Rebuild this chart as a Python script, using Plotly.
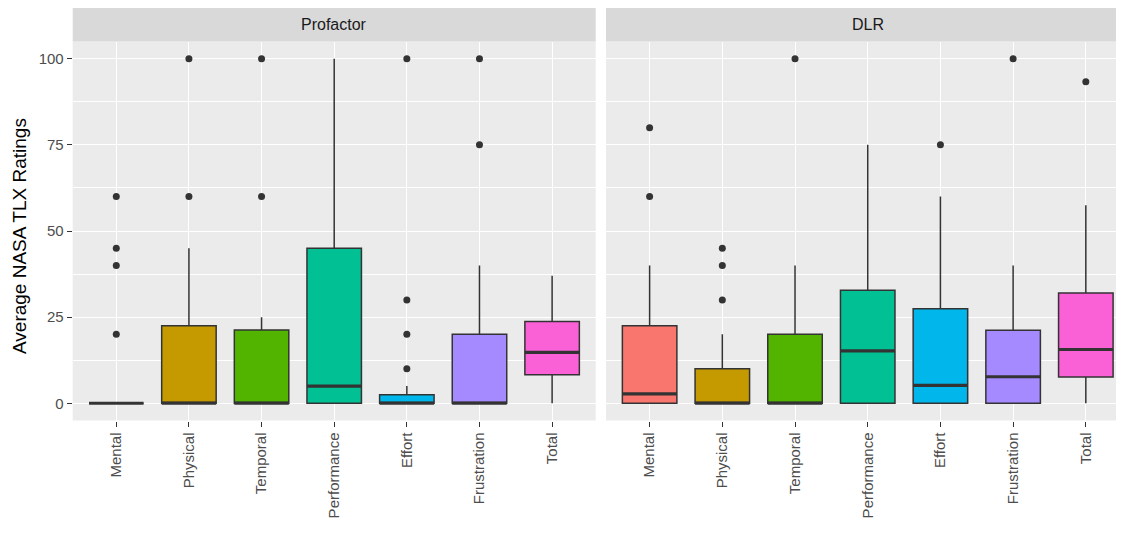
import plotly.graph_objects as go

categories = ["Mental", "Physical", "Temporal", "Performance", "Effort", "Frustration", "Total"]
colors = ["#F8766D", "#C49A00", "#53B400", "#00C094", "#00B6EB", "#A58AFF", "#FB61D7"]
y_ticks = [0, 25, 50, 75, 100]

# Profactor panel
prof_q1 = [0, 0, 0, 0, 0, 0, 8.3]
prof_med = [0, 0, 0, 5, 0, 0, 14.8]
prof_q3 = [0, 22.5, 21.25, 45, 2.5, 20, 23.7]
prof_lo = [0, 0, 0, 0, 0, 0, 0]
prof_hi = [0, 45, 25, 100, 5, 40, 37]
prof_out = [[20, 40, 45, 60], [60, 100], [60, 100], [], [10, 20, 30, 100], [75, 100], []]

# DLR panel
dlr_q1 = [0, 0, 0, 0, 0, 0, 7.6]
dlr_med = [2.7, 0, 0, 15.2, 5.2, 7.7, 15.6]
dlr_q3 = [22.5, 10, 20, 32.8, 27.4, 21.2, 32.0]
dlr_lo = [0, 0, 0, 0, 0, 0, 0]
dlr_hi = [40, 20, 40, 75, 60, 40, 57.5]
dlr_out = [[60, 80], [30, 40, 45], [100], [], [75], [100], [93.3]]

panels = [("Profactor", "x", "y", prof_q1, prof_med, prof_q3, prof_lo, prof_hi, prof_out),
          ("DLR", "x2", "y2", dlr_q1, dlr_med, dlr_q3, dlr_lo, dlr_hi, dlr_out)]

BOXW = 0.75
LINEC = "#333333"
fig = go.Figure()
positions = list(range(1, len(categories) + 1))

for name, xa, ya, q1, med, q3, lo, hi, outs in panels:
    for i, cat in enumerate(categories):
        pos = positions[i]
        fig.add_trace(go.Box(
            x=[pos], q1=[q1[i]], median=[med[i]], q3=[q3[i]],
            lowerfence=[lo[i]], upperfence=[hi[i]],
            width=BOXW, fillcolor=colors[i],
            line=dict(color=LINEC, width=1.5),
            boxpoints=False, whiskerwidth=0,
            xaxis=xa, yaxis=ya, showlegend=False, hoverinfo="skip"))
    # thicker median lines
    mx, my = [], []
    for i in range(len(categories)):
        mx += [positions[i] - BOXW / 2, positions[i] + BOXW / 2, None]
        my += [med[i], med[i], None]
    fig.add_trace(go.Scatter(x=mx, y=my, mode="lines",
                             line=dict(color=LINEC, width=3.2),
                             xaxis=xa, yaxis=ya, showlegend=False, hoverinfo="skip"))
    # outliers
    ox, oy = [], []
    for i in range(len(categories)):
        for v in outs[i]:
            ox.append(positions[i])
            oy.append(v)
    fig.add_trace(go.Scatter(x=ox, y=oy, mode="markers",
                             marker=dict(color=LINEC, size=7),
                             xaxis=xa, yaxis=ya, showlegend=False, hoverinfo="skip"))

# page has an 8px body margin; figure sized to fit inside it
OFF = 8
W, H = 1108, 517
PXU = 72.7  # pixels per category unit
left_dom = [(72.7 - OFF) / W, (595.7 - OFF) / W]
right_dom = [(606 - OFF) / W, 1.0]
y_dom = [(H - (420.5 - OFF)) / H, (H - (41.5 - OFF)) / H]
strip_top = 1.0

FONT = "Liberation Sans, Arial, sans-serif"
tickfont = dict(family=FONT, size=15, color="#4D4D4D")

xcommon = dict(tickmode="array", tickvals=positions, ticktext=categories,
               tickangle=-90, tickfont=tickfont, ticks="outside", ticklen=5,
               tickcolor=LINEC, tickwidth=1, showgrid=True, gridcolor="white",
               gridwidth=1.1, zeroline=False, showline=False, automargin=False)
ycommon = dict(range=[-5, 105], domain=y_dom, tickmode="array", tickvals=y_ticks,
               tickfont=tickfont, ticks="outside", ticklen=5, tickcolor=LINEC,
               tickwidth=1, showgrid=True, gridcolor="white", gridwidth=1.1,
               zeroline=False, showline=False, automargin=False,
               minor=dict(tickvals=[12.5, 37.5, 62.5, 87.5], showgrid=True,
                          gridcolor="white", gridwidth=0.55, ticks=""))

fig.update_layout(
    width=W, height=H,
    margin=dict(l=0, r=0, t=0, b=0, autoexpand=False),
    paper_bgcolor="white", plot_bgcolor="#EBEBEB",
    font=dict(family=FONT),
    boxmode="overlay",
    xaxis=dict(xcommon, domain=left_dom, range=[0.4, 7.6], anchor="y"),
    xaxis2=dict(xcommon, domain=right_dom,
                range=[0.4, 0.4 + (W - (606 - OFF)) / PXU], anchor="y2"),
    yaxis=dict(ycommon, anchor="x"),
    yaxis2=dict(ycommon, anchor="x2", matches="y", showticklabels=False, ticks=""),
    shapes=[
        dict(type="rect", xref="paper", yref="paper", x0=left_dom[0], x1=left_dom[1],
             y0=y_dom[1], y1=strip_top, fillcolor="#D9D9D9", line=dict(width=0), layer="below"),
        dict(type="rect", xref="paper", yref="paper", x0=right_dom[0], x1=right_dom[1],
             y0=y_dom[1], y1=strip_top, fillcolor="#D9D9D9", line=dict(width=0), layer="below"),
    ],
    annotations=[
        dict(text="Profactor", xref="x", yref="paper", x=4, y=(y_dom[1] + strip_top) / 2,
             showarrow=False, font=dict(family=FONT, size=16, color="#1A1A1A"),
             xanchor="center", yanchor="middle"),
        dict(text="DLR", xref="x2", yref="paper", x=4, y=(y_dom[1] + strip_top) / 2,
             showarrow=False, font=dict(family=FONT, size=16, color="#1A1A1A"),
             xanchor="center", yanchor="middle"),
        dict(text="Average NASA TLX Ratings", xref="paper", yref="paper",
             x=(20 - OFF) / W, y=(H - (236 - OFF)) / H, textangle=-90, showarrow=False,
             font=dict(family=FONT, size=19, color="black"),
             xanchor="center", yanchor="middle"),
    ],
)

fig.write_html("out.html")
